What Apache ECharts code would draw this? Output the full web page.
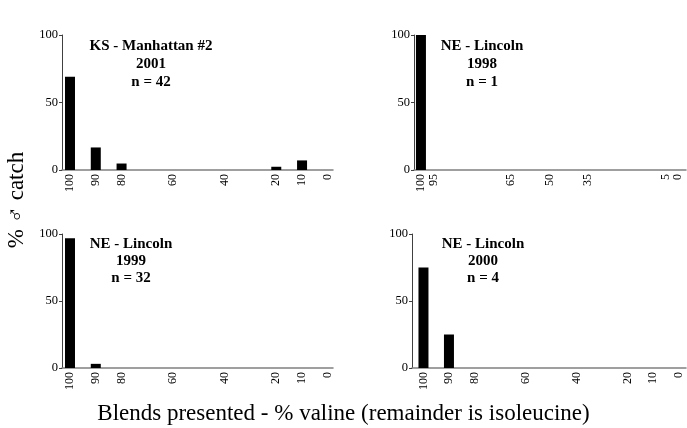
<!DOCTYPE html>
<html>
<head>
<meta charset="utf-8">
<script src="https://cdn.jsdelivr.net/npm/echarts@6/dist/echarts.min.js"></script>
<style>
html,body{margin:0;padding:0;background:#fff;}
#c{width:687px;height:428px;}
</style>
</head>
<body>
<div id="c"></div>
<script>
// ---- data ----
const blendsKS2001 = [100, 90, 80, 20, 10];
const catchKS2001 = [69.0, 16.7, 4.8, 2.4, 7.1];
const blendsNE1998 = [100];
const catchNE1998 = [100];
const blendsNE1999 = [100, 90];
const catchNE1999 = [96.9, 3.1];
const blendsNE2000 = [100, 90];
const catchNE2000 = [75, 25];

const ticksStandard = [100, 90, 80, 60, 40, 20, 10, 0];
const ticks1998 = [100, 95, 65, 50, 35, 5, 0];

const panelTitles = [
  'KS - Manhattan #2\n2001\nn = 42',
  'NE - Lincoln\n1998\nn = 1',
  'NE - Lincoln\n1999\nn = 32',
  'NE - Lincoln\n2000\nn = 4'
];
const xTitle = 'Blends presented - % valine (remainder is isoleucine)';
const yTitle = '% \u2642 catch';

// ---- chart ----
const serif = '"Liberation Serif", "Times New Roman", serif';
const grids = [
  {left: 62, top: 35, width: 271, height: 135},
  {left: 414, top: 35, width: 272, height: 135},
  {left: 62, top: 234, width: 271, height: 134},
  {left: 412, top: 234, width: 274, height: 134}
];
const xRanges = [[-2, 103.1], [-3, 102.7], [-2, 103.1], [-3, 104.5]];
const tickSets = [ticksStandard, ticks1998, ticksStandard, ticksStandard];
const blends = [blendsKS2001, blendsNE1998, blendsNE1999, blendsNE2000];
const catches = [catchKS2001, catchNE1998, catchNE1999, catchNE2000];

const xAxes = grids.map((g, i) => ({
  type: 'value', gridIndex: i, inverse: true, position: 'bottom',
  min: xRanges[i][0], max: xRanges[i][1],
  splitLine: {show: false},
  axisLine: {show: true, onZero: false, lineStyle: {color: '#808080', width: 1.5}},
  axisTick: {show: false},
  axisLabel: {
    customValues: tickSets[i], rotate: 90, margin: 4,
    fontFamily: serif, fontSize: 12, color: '#000'
  }
}));
const yAxes = grids.map((g, i) => ({
  type: 'value', gridIndex: i, position: 'left', min: 0, max: 100, interval: 50,
  splitLine: {show: false},
  axisLine: {show: true, onZero: false, lineStyle: {color: '#404040', width: 1}},
  axisTick: {show: true, length: 3, lineStyle: {color: '#404040'}},
  axisLabel: {margin: 4, fontFamily: serif, fontSize: 12.5, color: '#000'}
}));
const series = grids.map((g, i) => ({
  type: 'bar', xAxisIndex: i, yAxisIndex: i, barWidth: 10,
  itemStyle: {color: '#000'},
  data: blends[i].map((b, j) => [b, catches[i][j]]),
  silent: true
}));

const titlePos = [[151, 37], [482, 37], [131, 236], [483, 236]];
const graphics = panelTitles.map((t, i) => ({
  type: 'text', x: titlePos[i][0], y: titlePos[i][1],
  style: {
    text: t, textAlign: 'center', textVerticalAlign: 'top',
    font: 'bold 15px ' + serif, lineHeight: i < 2 ? 18 : 17, fill: '#000'
  }
}));
graphics.push({
  type: 'text', x: 343.5, y: 414,
  style: {text: xTitle, textAlign: 'center', textVerticalAlign: 'middle',
    font: '23px ' + serif, fill: '#000'}
});
graphics.push({
  type: 'text', x: 17, y: 200, rotation: Math.PI / 2,
  style: {text: yTitle, textAlign: 'center', textVerticalAlign: 'middle',
    font: '23px ' + serif, fill: '#000'}
});

const chart = echarts.init(document.getElementById('c'), null, {renderer: 'canvas'});
chart.setOption({
  animation: false,
  backgroundColor: '#fff',
  grid: grids,
  xAxis: xAxes,
  yAxis: yAxes,
  series: series,
  graphic: graphics
});
</script>
</body>
</html>
